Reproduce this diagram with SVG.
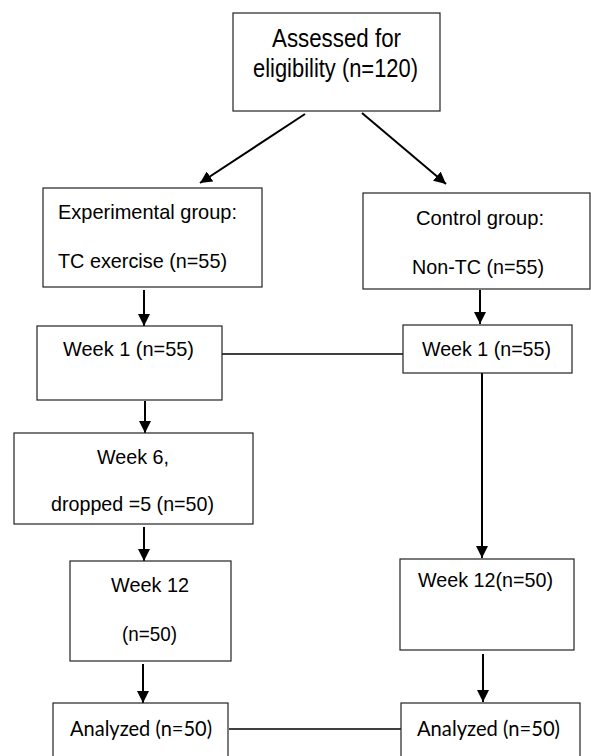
<svg xmlns="http://www.w3.org/2000/svg" width="591" height="756" viewBox="0 0 591 756">
<defs>
<marker id="ah" markerUnits="userSpaceOnUse" markerWidth="12" markerHeight="12" viewBox="0 0 12 12" refX="12" refY="6" orient="auto">
<path d="M0,0 L12,6 L0,12 z" fill="#000"/>
</marker>
<style>
.box{fill:#fff;stroke:#222;stroke-width:1.2}
.t{font-family:"Liberation Sans",Arial,sans-serif;font-size:21px;fill:#000}
.big{font-size:25px}
.c{font-family:Lato,"Liberation Sans",sans-serif;font-size:22px;fill:#000}
.ar{stroke:#000;stroke-width:2;fill:none;marker-end:url(#ah)}
.ln{stroke:#000;stroke-width:1.5;fill:none}
</style>
</defs>
<g id="connectors">
<line class="ar" x1="305" y1="114" x2="200" y2="183"/>
<line class="ar" x1="362" y1="113" x2="446" y2="184"/>
<line class="ar" x1="144" y1="290" x2="144" y2="326"/>
<line class="ar" x1="480" y1="290" x2="480" y2="324"/>
<line class="ln" x1="222" y1="354" x2="403" y2="354"/>
<line class="ar" x1="482" y1="373" x2="482" y2="558"/>
<line class="ar" x1="145" y1="401" x2="145" y2="433"/>
<line class="ar" x1="144" y1="527" x2="144" y2="561"/>
<line class="ar" x1="143" y1="664" x2="143" y2="703"/>
<line class="ar" x1="483" y1="654" x2="483" y2="702"/>
<line class="ln" x1="229" y1="729" x2="401" y2="729"/>
</g>
<g id="assessed">
<rect class="box" x="233" y="13" width="207" height="98"/>
<text class="t big" x="272" y="47" textLength="129" lengthAdjust="spacingAndGlyphs">Assessed for</text>
<text class="t big" x="253" y="77" textLength="165" lengthAdjust="spacingAndGlyphs">eligibility (n=120)</text>
</g>
<g id="experimental">
<rect class="box" x="43" y="188" width="219" height="99"/>
<text class="t" x="58" y="219" textLength="179" lengthAdjust="spacingAndGlyphs">Experimental group:</text>
<text class="t" x="58" y="268" textLength="169" lengthAdjust="spacingAndGlyphs">TC exercise (n=55)</text>
</g>
<g id="control">
<rect class="box" x="363" y="193" width="227" height="96"/>
<text class="t" x="416" y="225" textLength="128" lengthAdjust="spacingAndGlyphs">Control group:</text>
<text class="t" x="412" y="274" textLength="132" lengthAdjust="spacingAndGlyphs">Non-TC (n=55)</text>
</g>
<g id="week1-exp">
<rect class="box" x="37" y="326" width="185" height="74"/>
<text class="t" x="63" y="356" textLength="131" lengthAdjust="spacingAndGlyphs">Week 1 (n=55)</text>
</g>
<g id="week1-ctl">
<rect class="box" x="403" y="325" width="169" height="48"/>
<text class="t" x="422" y="356" textLength="129" lengthAdjust="spacingAndGlyphs">Week 1 (n=55)</text>
</g>
<g id="week6-exp">
<rect class="box" x="14" y="433" width="239" height="91"/>
<text class="t" x="97" y="464" textLength="72" lengthAdjust="spacingAndGlyphs">Week 6,</text>
<text class="t" x="51" y="511" textLength="163" lengthAdjust="spacingAndGlyphs">dropped =5 (n=50)</text>
</g>
<g id="week12-exp">
<rect class="box" x="70" y="561" width="161" height="100"/>
<text class="t" x="111" y="592" textLength="78" lengthAdjust="spacingAndGlyphs">Week 12</text>
<text class="t" x="122" y="641" textLength="55" lengthAdjust="spacingAndGlyphs">(n=50)</text>
</g>
<g id="week12-ctl">
<rect class="box" x="400" y="559" width="174" height="91"/>
<text class="t" x="418" y="587" textLength="135" lengthAdjust="spacingAndGlyphs">Week 12(n=50)</text>
</g>
<g id="analyzed-exp">
<rect class="box" x="53" y="703" width="175" height="70"/>
<text class="c" x="70" y="736" textLength="142" lengthAdjust="spacingAndGlyphs">Analyzed (n=50)</text>
</g>
<g id="analyzed-ctl">
<rect class="box" x="401" y="703" width="179" height="70"/>
<text class="c" x="417" y="736" textLength="143" lengthAdjust="spacingAndGlyphs">Analyzed (n=50)</text>
</g>
</svg>
